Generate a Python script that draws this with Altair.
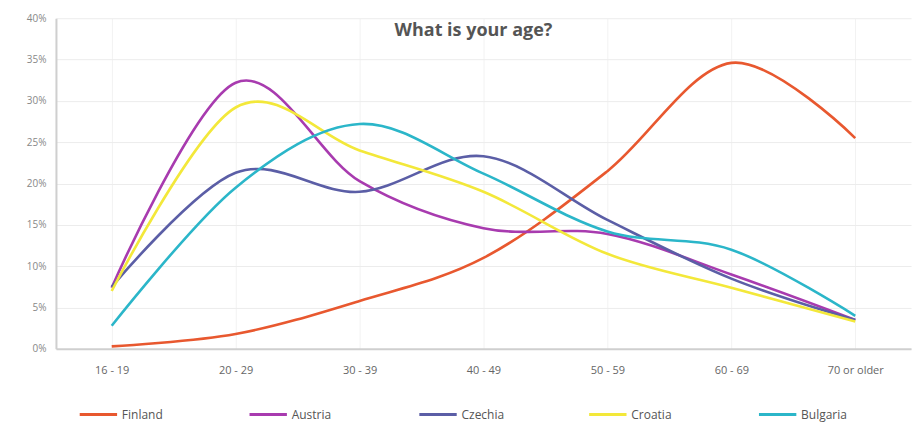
import altair as alt
import pandas as pd

categories = ["16 - 19", "20 - 29", "30 - 39", "40 - 49", "50 - 59", "60 - 69", "70 or older"]
countries = ["Finland", "Austria", "Czechia", "Croatia", "Bulgaria"]
colors = ["#E8582F", "#A83BAF", "#5B5EA6", "#F3E83A", "#2BB6C9"]

finland = [0.3, 1.8, 5.8, 11.0, 21.5, 34.6, 25.5]
austria = [7.4, 32.2, 20.3, 14.6, 13.9, 9.0, 3.5]
czechia = [7.5, 21.3, 19.0, 23.3, 15.6, 8.5, 3.5]
croatia = [7.0, 29.2, 24.0, 19.0, 11.5, 7.4, 3.3]
bulgaria = [2.8, 19.5, 27.2, 21.2, 14.2, 12.0, 4.0]

series = [finland, austria, czechia, croatia, bulgaria]
rows = []
for name, vals in zip(countries, series):
    for c, v in zip(categories, vals):
        rows.append({"Age": c, "Country": name, "Share": v / 100})
df = pd.DataFrame(rows)

font = "Open Sans"

chart = alt.Chart(df).mark_line(interpolate="cardinal", strokeWidth=2.6).encode(
    x=alt.X("Age:N", sort=categories, title=None,
            scale=alt.Scale(type="point", padding=0.45),
            axis=alt.Axis(labelAngle=0, labelColor="#666", labelFontSize=11, labelFont=font,
                          domainColor="#cfcfcf", domainWidth=2, ticks=False, labelPadding=16,
                          grid=True, gridColor="#f2f2f2")),
    y=alt.Y("Share:Q", title=None,
            scale=alt.Scale(domain=[0, 0.4]),
            axis=alt.Axis(format=".0%", values=[0, 0.05, 0.1, 0.15, 0.2, 0.25, 0.3, 0.35, 0.4],
                          labelColor="#888", labelFontSize=10, labelFont=font, ticks=False,
                          domainColor="#cfcfcf", domainWidth=2, labelPadding=10,
                          gridColor="#ececec")),
    color=alt.Color("Country:N", sort=countries,
                    scale=alt.Scale(domain=countries, range=colors),
                    legend=alt.Legend(orient="bottom", direction="horizontal", title=None,
                                      columns=5, symbolType="stroke", symbolSize=1400,
                                      symbolStrokeWidth=3, labelFontSize=12, labelFont=font,
                                      labelColor="#555", columnPadding=75, gridAlign="all",
                                      labelOffset=3, offset=-4, padding=22)),
).properties(
    width=856,
    height=331,
    padding={"left": 18, "top": 5, "right": 2, "bottom": 0},
    title=alt.TitleParams("What is your age?", fontSize=18, font=font, fontWeight="bold",
                          color="#555", anchor="middle", offset=-27, dx=-10),
).configure_view(stroke=None)

chart.save("out.html", embed_options={"renderer": "svg", "actions": False})
